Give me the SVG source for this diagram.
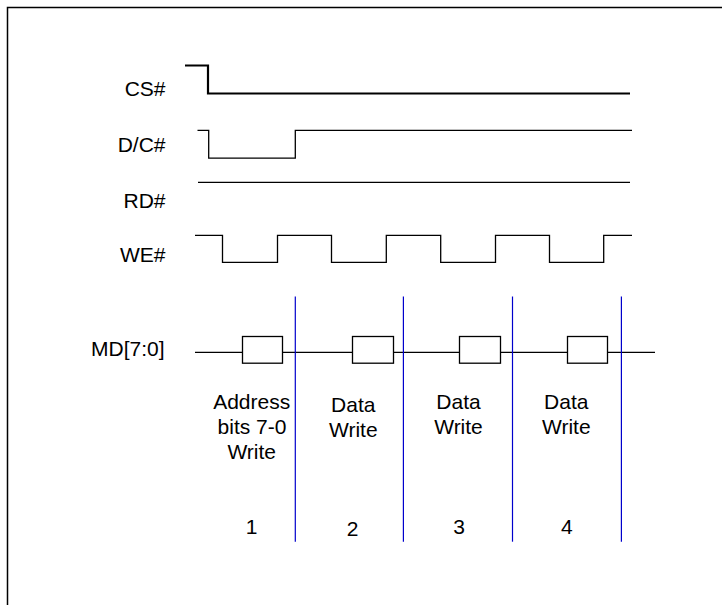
<svg xmlns="http://www.w3.org/2000/svg" width="722" height="605" viewBox="0 0 722 605">
<style>
.sig{fill:none;stroke:#000;stroke-width:1.3}
.thick{fill:none;stroke:#000;stroke-width:2.2}
.lbl{font-family:"Liberation Sans",Arial,sans-serif;font-size:21px;fill:#000}
.r{text-anchor:end}
.c{text-anchor:middle}
.box{fill:#fff;stroke:#000;stroke-width:1.3}
.div{stroke:#0000cc;stroke-width:1.2}
</style>
<rect width="722" height="605" fill="#fff"/>
<path d="M7.5 605 V7.5 H722" fill="none" stroke="#000" stroke-width="1.5"/>
<g id="cs">
<text class="lbl r" x="165.5" y="96">CS#</text>
<path class="thick" d="M185 65.5 H208 V93.5 H630"/>
</g>
<g id="dc">
<text class="lbl r" x="165.5" y="152">D/C#</text>
<path class="sig" d="M197.5 130.3 H208.7 V158.2 H295.3 V130.3 H632"/>
</g>
<g id="rd">
<text class="lbl r" x="165.5" y="207.5">RD#</text>
<path class="sig" d="M198 182.3 H630"/>
</g>
<g id="we">
<text class="lbl r" x="165.5" y="261.5">WE#</text>
<path class="sig" d="M195 235.3 H222.5 V262.3 H277.5 V235.3 H331.5 V262.3 H386.3 V235.3 H440.7 V262.3 H495.5 V235.3 H549.5 V262.3 H603.7 V235.3 H632"/>
</g>
<g id="md">
<text class="lbl r" x="164.5" y="356">MD[7:0]</text>
<path class="sig" d="M195 352.3 H655"/>
<rect class="box" x="242.5" y="336.5" width="40" height="26.7"/>
<rect class="box" x="352.5" y="336.5" width="41" height="26.7"/>
<rect class="box" x="459.5" y="336.5" width="41" height="26.7"/>
<rect class="box" x="567.5" y="336.5" width="40" height="26.7"/>
</g>
<g id="dividers">
<line class="div" x1="295.3" y1="296.5" x2="295.3" y2="541.7"/>
<line class="div" x1="403.4" y1="296.5" x2="403.4" y2="541.7"/>
<line class="div" x1="512.5" y1="296.5" x2="512.5" y2="541.7"/>
<line class="div" x1="621.4" y1="296.5" x2="621.4" y2="541.7"/>
</g>
<g id="col1">
<text class="lbl c" x="251.7" y="409.3">Address</text>
<text class="lbl c" x="252" y="434.3">bits 7-0</text>
<text class="lbl c" x="251.7" y="459.3">Write</text>
<text class="lbl c" x="251.7" y="534">1</text>
</g>
<g id="col2">
<text class="lbl c" x="353.3" y="411.7">Data</text>
<text class="lbl c" x="353.3" y="436.7">Write</text>
<text class="lbl c" x="352.7" y="535.7">2</text>
</g>
<g id="col3">
<text class="lbl c" x="458.5" y="409">Data</text>
<text class="lbl c" x="458.5" y="434">Write</text>
<text class="lbl c" x="459" y="534">3</text>
</g>
<g id="col4">
<text class="lbl c" x="566.3" y="409">Data</text>
<text class="lbl c" x="566.3" y="434">Write</text>
<text class="lbl c" x="566.8" y="533.5">4</text>
</g>
</svg>
